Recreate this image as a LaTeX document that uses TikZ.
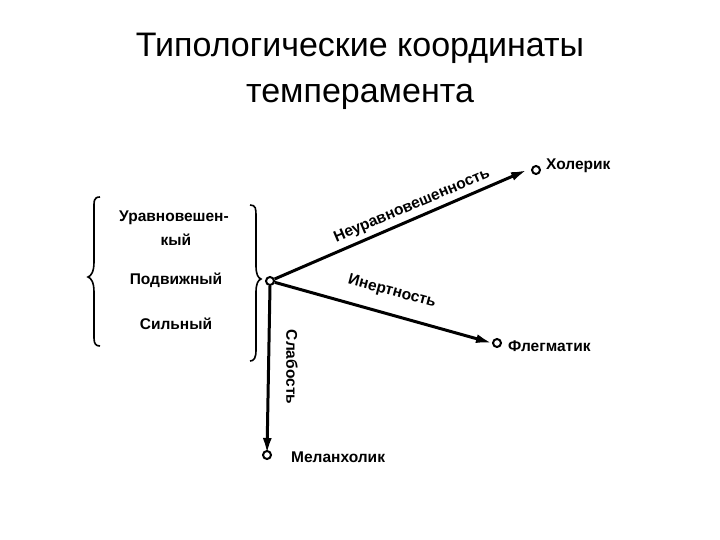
\documentclass[tikz,border=0pt]{standalone}
\usepackage{fontspec}
\setmainfont{Liberation Sans}
\usetikzlibrary{arrows.meta}
\begin{document}
\begin{tikzpicture}[x=1pt,y=-1pt,
  lbl/.style={font=\bfseries\fontsize{15.5}{18}\selectfont, inner sep=1pt},
  dot/.style={circle,draw,line width=2pt,minimum size=8pt,inner sep=0pt},
  arr/.style={line width=3pt,-{Latex[length=16pt,width=9pt]}}]
\useasboundingbox (0,0) rectangle (720,540);
\node[font=\fontsize{34}{46}\selectfont,align=center] (title) at (360,71) {Типологические координаты\\темперамента};
\node[dot] (o) at (270,281) {};
\node[dot] (h) at (536,170) {};
\node[dot] (f) at (497,343) {};
\node[dot] (m) at (267,455) {};
\node[lbl,anchor=west] (ht) at (545,166) {Холерик};
\node[lbl,anchor=west] (ft) at (507,346) {Флегматик};
\node[lbl,anchor=west] (mt) at (290,457) {Меланхолик};
\draw[arr] (o) -- ([xshift=-4pt]h.west);
\draw[arr] (o) -- (f.west);
\draw[arr] (o.south) -- ([yshift=-4pt]m.north);
\node[lbl,rotate=23] (n) at (412,206) {Неуравновешенность};
\node[lbl,rotate=-15] (i) at (392,292) {Инертность};
\node[lbl,rotate=-90] (s) at (292,367) {Слабость};
\node[lbl] (u1) at (174,218) {Уравновешен-};
\node[lbl] (u2) at (176,240) {кый};
\node[lbl] (p) at (176,280) {Подвижный};
\node[lbl] (c) at (176,324) {Сильный};
\draw[line width=1.6pt] (100,197) .. controls (93,197) and (94,202) .. (94,210) -- (94,262) .. controls (94,272) and (91,276) .. (88,277) .. controls (91,278) and (94,282) .. (94,292) -- (94,338) .. controls (94,344) and (96,346) .. (100,346);
\draw[line width=1.6pt] (250,205) .. controls (256,205) and (256,209) .. (256,216) -- (256,266) .. controls (256,274) and (258,278) .. (261,279) .. controls (258,280) and (256,284) .. (256,292) -- (256,350) .. controls (256,358) and (254,361) .. (250,361);
\end{tikzpicture}
\end{document}
